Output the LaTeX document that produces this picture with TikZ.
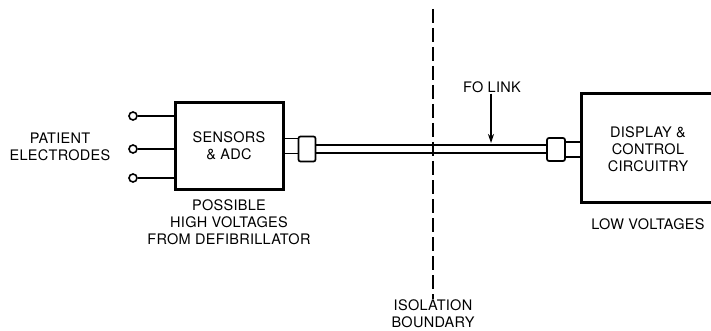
\documentclass[tikz,border=0pt]{standalone}
\usepackage{fontspec}
\setmainfont[LetterSpace=2]{TeX Gyre Heros}
\usetikzlibrary{arrows.meta,positioning}
\begin{document}
\begin{tikzpicture}[x=1pt, y=-1pt,
  font=\fontsize{14.5}{17}\selectfont,
  blk/.style={draw=black, line width=3pt, minimum width=108pt, minimum height=86pt,
    align=center, inner sep=0pt},
  plug/.style={draw=black, line width=1.7pt, rounded corners=2pt, minimum width=17pt,
    minimum height=25pt, inner sep=0pt},
  wire/.style={line width=1.8pt},
  pin/.style={circle, draw=black, line width=1.6pt, minimum size=8pt, inner sep=0pt},
  lbl/.style={align=center, inner sep=1pt},
  ]
  \useasboundingbox (0,0) rectangle (711,331);

  %%% sensor side %%%
  \node[blk] (sens) at (229,146) {SENSORS\\\& ADC};
  \node[lbl] (elab) at (60,147) {PATIENT\\ELECTRODES};
  \node[pin] (e1) at (133,116) {};
  \node[pin] (e2) at (133,149) {};
  \node[pin] (e3) at (133,178) {};
  \foreach \e in {e1,e2,e3}
    \draw[wire] (\e) -- (sens.west |- \e);
  \node[lbl, below=8pt of sens] (hv) {POSSIBLE\\HIGH VOLTAGES\\FROM DEFIBRILLATOR};

  %%% display side (box runs off the page) %%%
  \node[blk, minimum width=139pt, minimum height=108pt] (disp) at (650.5,148) {};
  \node[lbl] (dtxt) at (648,149) {DISPLAY \&\\CONTROL\\CIRCUITRY};
  \node[lbl, below=14pt of disp.south -| dtxt] (lv) {LOW VOLTAGES};

  %%% fibre-optic link with end plugs %%%
  \node[plug] (conL) at (307,149) {};
  \node[plug, minimum height=23pt, minimum width=18pt] (conR) at (556,149.5) {};
  \foreach \dy in {7.5,-7.5} {
    \draw[wire] ([yshift=\dy pt]sens.east) -- ([yshift=\dy pt]sens.east -| conL.west);
    \draw[wire] ([yshift=\dy pt]conR.east) -- ([yshift=\dy pt]conR.east -| disp.west);
  }
  \foreach \dy in {4,-4}
    \draw[wire] ([yshift=\dy pt]conL.east) -- ([yshift=\dy pt]conL.east -| conR.west);

  \node[lbl] (fo) at (492,87) {FO LINK};
  \coordinate (fotip) at (491,143);
  \draw[line width=1.2pt, -{Stealth[length=9pt, width=6pt]}] (fo.south -| fotip) -- (fotip);

  %%% isolation boundary %%%
  \coordinate (isotop) at (433,9);
  \node[lbl] (iso) at (433,314) {ISOLATION\\BOUNDARY};
  \draw[line width=1.8pt, dash pattern=on 14pt off 5pt] (isotop) -- (iso.north);
\end{tikzpicture}
\end{document}
